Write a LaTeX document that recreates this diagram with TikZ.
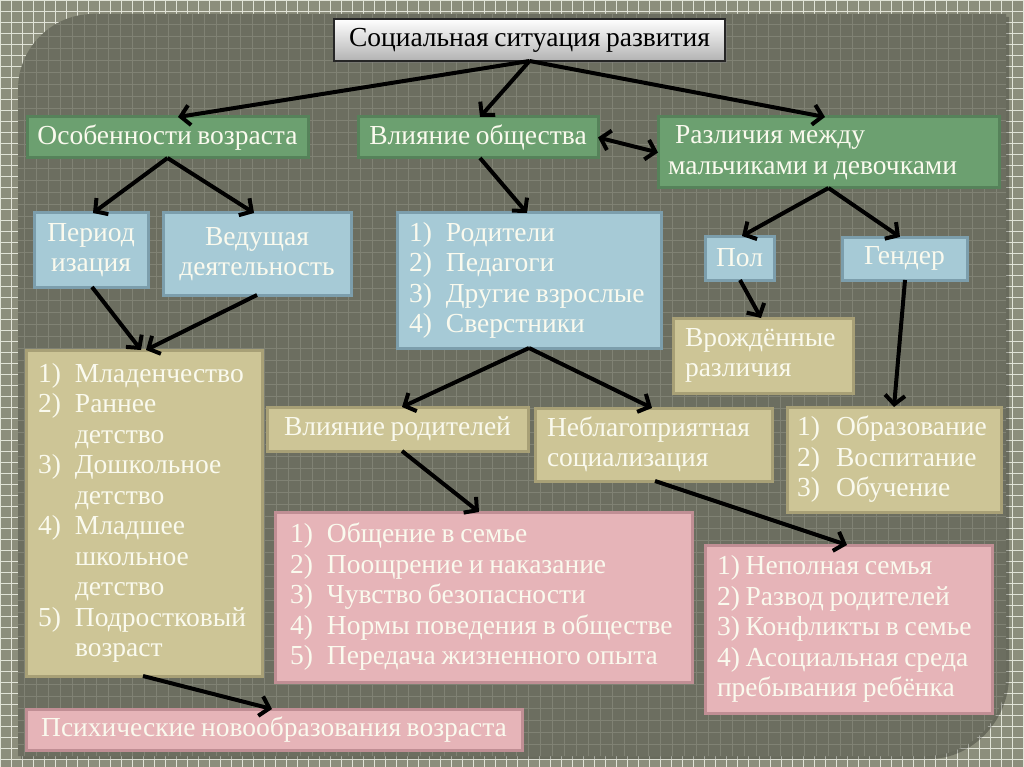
\documentclass[tikz,border=0pt]{standalone}
\usepackage{fontspec}
\setmainfont[WordSpace=0.8]{Liberation Serif}
\usetikzlibrary{arrows.meta,shadows}
\definecolor{outerbg}{RGB}{140,142,124}
\definecolor{outergrid}{RGB}{225,227,215}
\definecolor{panelbg}{RGB}{108,110,96}
\definecolor{panelgrid}{RGB}{128,130,116}
\definecolor{gfill}{RGB}{108,160,112}
\definecolor{gline}{RGB}{86,130,90}
\definecolor{bfill}{RGB}{166,202,214}
\definecolor{bline}{RGB}{124,158,172}
\definecolor{tfill}{RGB}{205,197,150}
\definecolor{tline}{RGB}{168,160,118}
\definecolor{pfill}{RGB}{230,180,184}
\definecolor{pline}{RGB}{192,142,148}
\definecolor{txt}{RGB}{250,250,238}
\newcommand\bfnt{\fontsize{27.5}{30.5}\selectfont}
\newcommand\tsp{\spaceskip=0.21em\relax}
\newcommand\li[2]{\makebox[37pt][l]{#1}#2}
\newcommand\lii[2]{\makebox[39pt][l]{#1}#2}
\begin{document}
\begin{tikzpicture}[x=1pt,y=-1pt,
  box/.style={line width=3pt, anchor=north west, inner ysep=0pt, outer sep=0pt, font=\bfnt, text=txt,
     drop shadow={opacity=0.3, shadow xshift=1.5pt, shadow yshift=-1.5pt}},
  greenbox/.style={box, fill=gfill, draw=gline},
  bluebox/.style={box, fill=bfill, draw=bline},
  tanbox/.style={box, fill=tfill, draw=tline},
  pinkbox/.style={box, fill=pfill, draw=pline},
  ctr/.style={align=center, inner xsep=0pt},
  titlebox/.style={anchor=north west, inner ysep=0pt, inner xsep=0pt, outer sep=0pt, font=\bfnt, text=black,
     draw=black!85, line width=1.2pt, top color=white, bottom color=black!30, align=center,
     drop shadow={opacity=0.5, shadow xshift=2pt, shadow yshift=-2pt}},
  arr/.style={line width=4pt, black, -{Straight Barb[length=9pt,width=20pt]}},
  darr/.style={line width=4pt, black, {Straight Barb[length=9pt,width=20pt]}-{Straight Barb[length=9pt,width=20pt]}}
]
\useasboundingbox (0,0) rectangle (1024,767);
% background
\fill[outerbg] (0,0) rectangle (1024,767);
\draw[outergrid, line width=0.8pt, step=11pt] (0,0) grid (1024,767);
% panel
\fill[black, opacity=0.25] (21,759) -- (21,92) .. controls (21,51) and (55,17) .. (96,17) -- (1009,17) -- (1009,676) .. controls (1009,720) and (973,759) .. (929,759) -- cycle;
\fill[panelbg] (18,756) -- (18,89) .. controls (18,48) and (52,14) .. (93,14) -- (1006,14) -- (1006,676) .. controls (1006,720) and (970,756) .. (926,756) -- cycle;
\begin{scope}
\clip (18,756) -- (18,89) .. controls (18,48) and (52,14) .. (93,14) -- (1006,14) -- (1006,676) .. controls (1006,720) and (970,756) .. (926,756) -- cycle;
\draw[panelgrid, line width=0.8pt, step=12pt] (0,0) grid (1024,767);
\end{scope}
% nodes
\node[titlebox, minimum width=391pt, minimum height=42pt] (title) at (334,19) {Социальная ситуация развития};
\node[greenbox, ctr, minimum width=281pt, minimum height=41pt] (osob) at (27,117) {Особенности возраста};
\node[greenbox, ctr, minimum width=240pt, minimum height=41pt] (vlob) at (358,117) {Влияние общества};
\node[greenbox, text width=321pt, inner xsep=10pt, minimum height=71pt, align=left] (razl) at (658,117) {\tsp\hspace*{7pt}Различия между\\мальчиками и девочками};
\node[bluebox, ctr, minimum width=114pt, minimum height=74pt] (period) at (34,213) {Период\\изация};
\node[bluebox, ctr, minimum width=188pt, minimum height=82pt] (vedush) at (163,213) {Ведущая\\деятельность};
\node[tanbox, text width=212pt, inner xsep=12pt, minimum height=326pt, align=left] (ages) at (26,350) {\tsp\li{1)}{Младенчество}\\\li{2)}{Раннее}\\\li{}{детство}\\\li{3)}{Дошкольное}\\\li{}{детство}\\\li{4)}{Младшее}\\\li{}{школьное}\\\li{}{детство}\\\li{5)}{Подростковый}\\\li{}{возраст}};
\node[bluebox, text width=240pt, inner xsep=12pt, minimum height=135pt, align=left] (rodit) at (397,213) {\tsp\li{1)}{Родители}\\\li{2)}{Педагоги}\\\li{3)}{Другие взрослые}\\\li{4)}{Сверстники}};
\node[tanbox, ctr, minimum width=261pt, minimum height=44pt] (vlrod) at (267,407) {Влияние родителей};
\node[tanbox, text width=213pt, inner xsep=12pt, minimum height=73pt, align=left] (nebl) at (535,408) {\tsp Неблагоприятная\\социализация};
\node[bluebox, ctr, minimum width=69pt, minimum height=44pt] (pol) at (705,236) {Пол};
\node[bluebox, ctr, minimum width=125pt, minimum height=43pt] (gender) at (842,237) {Гендер};
\node[tanbox, text width=156pt, inner xsep=12pt, minimum height=75pt, align=left] (vrozh) at (673,318) {\tsp Врождённые\\различия};
\node[tanbox, text width=194pt, inner xsep=10pt, minimum height=105pt, align=left] (obraz) at (787,407) {\tsp\lii{1)}{Образование}\\\lii{2)}{Воспитание}\\\lii{3)}{Обучение}};
\node[pinkbox, text width=387pt, inner xsep=15pt, minimum height=170pt, align=left] (obsch) at (275,512) {\tsp\li{1)}{Общение в семье}\\\li{2)}{Поощрение и наказание}\\\li{3)}{Чувство безопасности}\\\li{4)}{Нормы поведения в обществе}\\\li{5)}{Передача жизненного опыта}};
\node[pinkbox, text width=263pt, inner xsep=12pt, minimum height=168pt, align=left] (nepol) at (705,545) {\tsp 1) Неполная семья\\2) Развод родителей\\3) Конфликты в семье\\4) Асоциальная среда\\пребывания ребёнка};
\node[pinkbox, ctr, minimum width=496pt, minimum height=41pt] (psych) at (26,709) {Психические новообразования возраста};
% arrows
\draw[arr] (title.south) -- ([xshift=10.5pt]osob.north);
\draw[arr] (title.south) -- ([xshift=2pt]vlob.north);
\draw[arr] (title.south) -- ([xshift=-3.5pt]razl.north);
\draw[darr] (vlob.east) -- (razl.west);
\draw[arr] (osob.south) -- ([xshift=2pt]period.north);
\draw[arr] (osob.south) -- ([xshift=-3pt]vedush.north);
\draw[arr] ([xshift=1pt]period.south) -- ([xshift=-3pt]ages.north);
\draw[arr] (vedush.south) -- ([xshift=2pt]ages.north);
\draw[arr] ([xshift=2pt]vlob.south) -- ([xshift=-2pt]rodit.north);
\draw[arr] (rodit.south) -- ([xshift=4.5pt]vlrod.north);
\draw[arr] (rodit.south) -- ([xshift=-1.5pt]nebl.north);
\draw[arr] (razl.south) -- ([xshift=2.5pt]pol.north);
\draw[arr] (razl.south) -- ([xshift=-4.5pt]gender.north);
\draw[arr] ([xshift=0.5pt]pol.south) -- ([xshift=-2pt]vrozh.north);
\draw[arr] ([xshift=0.5pt]gender.south) -- (obraz.north);
\draw[arr] ([xshift=4.5pt]vlrod.south) -- ([xshift=-4.5pt]obsch.north);
\draw[arr] ([xshift=1.5pt]nebl.south) -- ([xshift=-1.5pt]nepol.north);
\draw[arr] ([xshift=-1pt]ages.south) -- ([xshift=-2pt]psych.north);
\end{tikzpicture}
\end{document}
